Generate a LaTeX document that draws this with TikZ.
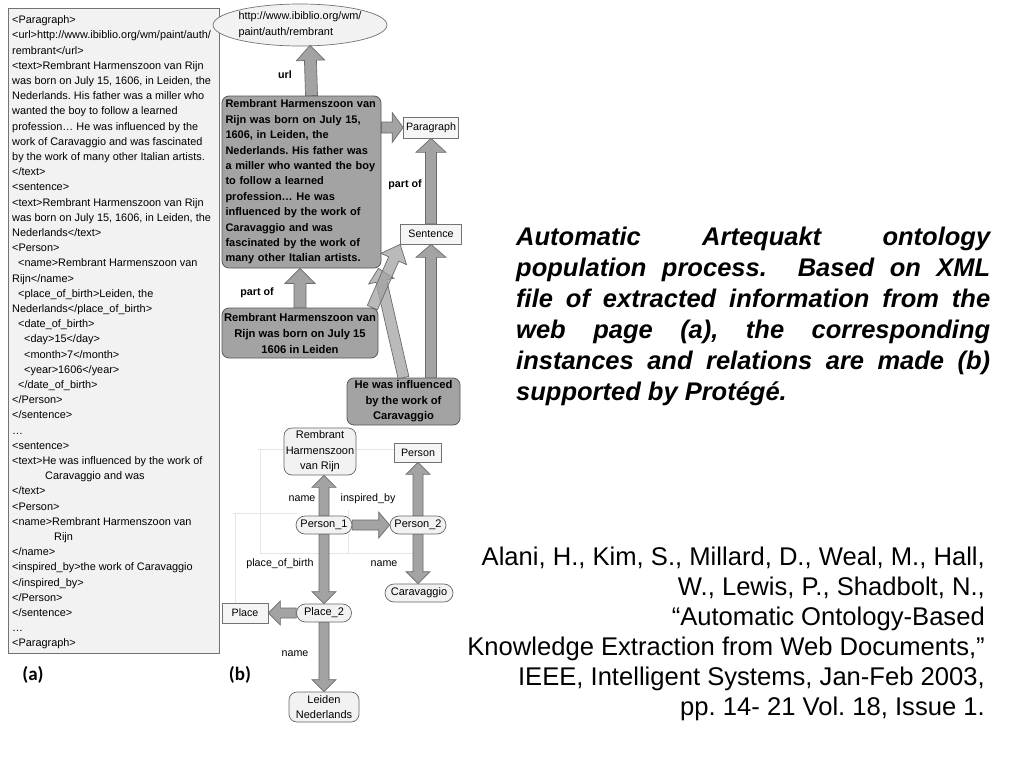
\documentclass[tikz,border=0pt]{standalone}
\usepackage{fontspec}
\setmainfont{Liberation Sans}
\newfontfamily\carl{Carlito}
\usetikzlibrary{calc,shapes.geometric}
\frenchspacing
\newcommand{\barrow}[6][]{%
  \coordinate (hb) at ($(#3)!#6!(#2)$);
  \filldraw[arrowfill,#1] ($(#2)!#4!90:(#3)$) -- ($(hb)!#4!-90:(#2)$) -- ($(hb)!#5!-90:(#2)$) -- (#3) -- ($(hb)!#5!90:(#2)$) -- ($(hb)!#4!90:(#2)$) -- ($(#2)!#4!-90:(#3)$) -- cycle;
}
\begin{document}
\frenchspacing
\begin{tikzpicture}[x=1pt,y=-1pt,
  arrowfill/.style={draw=black!58,fill=black!36,line width=0.7pt,line join=miter},
  panel/.style={draw=black!55,fill=black!5,line width=0.8pt,inner sep=0pt},
  dbox/.style={draw=black!65,fill=black!36,rounded corners=7pt,line width=0.8pt,inner sep=0pt,align=center,font=\fontsize{11.2}{15.4}\selectfont\bfseries},
  sbox/.style={draw=black!55,fill=black!4,line width=0.7pt,inner sep=0pt,font=\fontsize{10.7}{13}\selectfont},
  pill/.style={draw=black!60,fill=black!5,line width=0.7pt,rounded corners=8pt,inner sep=0pt,align=center,font=\fontsize{11}{15.5}\selectfont},
  lab/.style={inner sep=0pt,font=\fontsize{10.7}{13}\selectfont\bfseries},
  rlab/.style={inner sep=0pt,font=\fontsize{10.7}{13}\selectfont},
  faint/.style={draw=black!10,line width=0.6pt},
  captext/.style={inner sep=0pt,anchor=base west,font=\fontsize{25.5}{31}\selectfont\bfseries\itshape},
  citetext/.style={inner sep=0pt,anchor=base east,font=\fontsize{25.6}{30}\selectfont},
  subtext/.style={inner sep=0pt,font=\fontsize{19}{22}\selectfont\carl\bfseries}]
\fill[white] (0,0) rectangle (1024,768);
\useasboundingbox (0,0) rectangle (1024,768);

% ---------- (a) XML panel ----------
\node[panel,minimum width=211pt,minimum height=645pt,anchor=north west] (xml) at (8,8) {};
\node[inner sep=0pt,anchor=north west,align=left,font=\fontsize{10.9}{15.2}\selectfont] (xmltext) at (12,15.5) {%
<Paragraph>\\
<url>http://www.ibiblio.org/wm/paint/auth/\\
rembrant</url>\\
<text>Rembrant Harmenszoon van Rijn\\
was born on July 15, 1606, in Leiden, the\\
Nederlands. His father was a miller who\\
wanted the boy to follow a learned\\
profession… He was influenced by the\\
work of Caravaggio and was fascinated\\
by the work of many other Italian artists.\\
</text>\\
<sentence>\\
<text>Rembrant Harmenszoon van Rijn\\
was born on July 15, 1606, in Leiden, the\\
Nederlands</text>\\
<Person>\\
\hspace*{6pt}<name>Rembrant Harmenszoon van\\
Rijn</name>\\
\hspace*{6pt}<place\_of\_birth>Leiden, the\\
Nederlands</place\_of\_birth>\\
\hspace*{6pt}<date\_of\_birth>\\
\hspace*{12pt}<day>15</day>\\
\hspace*{12pt}<month>7</month>\\
\hspace*{12pt}<year>1606</year>\\
\hspace*{6pt}</date\_of\_birth>\\
</Person>\\
</sentence>\\
…\\
<sentence>\\
<text>He was influenced by the work of\\
\hspace*{33pt}Caravaggio and was\\
</text>\\
<Person>\\
<name>Rembrant Harmenszoon van\\
\hspace*{42pt}Rijn\\
</name>\\
<inspired\_by>the work of Caravaggio\\
</inspired\_by>\\
</Person>\\
</sentence>\\
…\\
<Paragraph>};

% ---------- (b) upper: text instances ----------
\node[ellipse,draw=black!55,fill=black!5,line width=0.7pt,minimum width=136pt,minimum height=42pt,inner sep=0pt,align=left,font=\fontsize{10.9}{16}\selectfont] (url) at (300,25) {http://www.ibiblio.org/wm/\\paint/auth/rembrant};

\node[dbox,minimum width=159pt,minimum height=172pt,text width=152pt,inner xsep=3.5pt,align=left,font=\fontsize{11}{15.4}\selectfont\bfseries] (big) at (301.5,182) {Rembrant Harmenszoon van\\Rijn was born on July 15,\\1606, in Leiden, the\\Nederlands. His father was\\a miller who wanted the boy\\to follow a learned\\profession… He was\\influenced by the work of\\Caravaggio and was\\fascinated by the work of\\many other Italian artists.};

\node[sbox,minimum width=55pt,minimum height=21pt] (para) at (431,127.5) {Paragraph};
\node[sbox,minimum width=61pt,minimum height=20pt] (sent) at (431,234) {Sentence};

\node[dbox,minimum width=156pt,minimum height=50pt,font=\fontsize{11.2}{16}\selectfont\bfseries] (mid) at (300,333) {Rembrant Harmenszoon van\\Rijn was born on July 15\\1606 in Leiden};
\node[dbox,minimum width=113pt,minimum height=47pt,font=\fontsize{11.2}{15.5}\selectfont\bfseries] (hw) at (403.5,401.5) {He was influenced\\by the work of\\Caravaggio};

\node[lab] (lurl) at (285,75) {url};
\node[lab] (lpo1) at (405,185) {part of};
\node[lab] (lpo2) at (257,293) {part of};

\coordinate (u1) at ([xshift=10pt]big.north);
\coordinate (u2) at ([xshift=10pt,yshift=1pt]url.south);
\barrow{u1}{u2}{6pt}{14pt}{15pt}
\coordinate (bp1) at (big.east |- para.west);
\barrow{bp1}{para.west}{5.5pt}{15pt}{11pt}
\barrow{sent.north}{para.south}{5.5pt}{15pt}{14pt}
\coordinate (hs1) at (sent.south |- hw.north);
\barrow{hs1}{sent.south}{5.5pt}{15pt}{13pt}
\coordinate (mb2) at (mid.north |- big.south);
\barrow{mid.north}{mb2}{6pt}{15pt}{15pt}
\coordinate (b2) at ([xshift=-3pt]big.south east);
\barrow[fill opacity=0.75]{hw.north}{b2}{5.5pt}{13pt}{13pt}
\coordinate (a1) at ([xshift=-6pt]mid.north east);
\barrow[fill opacity=0.75]{a1}{sent.south west}{5.5pt}{14pt}{16pt}

% ---------- (b) lower: ontology graph ----------
\draw[faint] (258,449) -- (396,449);
\draw[faint] (260,449) -- (260,553) -- (415,553);
\draw[faint] (233,513) -- (297,513);
\draw[faint] (235,513) -- (235,607);
\draw[faint] (348,510) -- (348,553);

\node[pill,minimum width=72pt,minimum height=47pt] (rem) at (320,451.5) {Rembrant\\Harmenszoon\\van Rijn};
\node[sbox,minimum width=47pt,minimum height=19pt] (person) at (418,452.5) {Person};
\node[pill,minimum width=56pt,minimum height=18pt,rounded corners=9pt] (p1) at (324,525) {Person\_1};
\node[pill,minimum width=56pt,minimum height=18pt,rounded corners=9pt] (p2) at (418,525) {Person\_2};
\node[pill,minimum width=68pt,minimum height=18pt,rounded corners=9pt] (car) at (419,593) {Caravaggio};
\node[pill,minimum width=55pt,minimum height=18pt,rounded corners=9pt] (pl2) at (324,613) {Place\_2};
\node[sbox,minimum width=46pt,minimum height=20pt] (place) at (245,613) {Place};
\node[pill,minimum width=70pt,minimum height=30pt,font=\fontsize{11}{15}\selectfont] (lei) at (324,707) {Leiden\\Nederlands};

\node[rlab] (ln1) at (302,499) {name};
\node[rlab] (lins) at (368,499) {inspired\_by};
\node[rlab] (lpob) at (280,564) {place\_of\_birth};
\node[rlab] (ln2) at (384,564) {name};
\node[rlab] (ln3) at (295,654) {name};

\coordinate (n1) at (p1.north |- rem.south);
\barrow{p1.north}{n1}{5pt}{12pt}{12pt}
\barrow{p1.east}{p2.west}{5pt}{13pt}{11pt}
\coordinate (pp) at (p2.north |- person.south);
\barrow{p2.north}{pp}{5pt}{12pt}{12pt}
\coordinate (c2) at (p2.south |- car.north);
\barrow{p2.south}{c2}{5pt}{12pt}{12pt}
\barrow{p1.south}{pl2.north}{5pt}{12pt}{12pt}
\barrow{pl2.west}{place.east}{5pt}{12pt}{12pt}
\barrow{pl2.south}{lei.north}{5pt}{12pt}{12pt}

\node[subtext] (suba) at (33,675) {(a)};
\node[subtext] (subb) at (240,675) {(b)};

% ---------- caption ----------
\node[captext] (c1) at (516,245) {\makebox[474pt][s]{Automatic Artequakt ontology}};
\node[captext] (c2l) at (516,276) {\makebox[474pt][s]{population process.\ \ Based on XML}};
\node[captext] (c3) at (516,307) {\makebox[474pt][s]{file of extracted information from the}};
\node[captext] (c4) at (516,338) {\makebox[474pt][s]{web page (a), the corresponding}};
\node[captext] (c5) at (516,369) {\makebox[474pt][s]{instances and relations are made (b)}};
\node[captext] (c6) at (516,400) {supported by Protégé.};

% ---------- citation ----------
\node[citetext] (r1) at (985,565) {Alani, H., Kim, S., Millard, D., Weal, M., Hall,};
\node[citetext] (r2) at (985,595) {W., Lewis, P., Shadbolt, N.,};
\node[citetext] (r3) at (985,625) {“Automatic Ontology-Based};
\node[citetext] (r4) at (985,655) {Knowledge Extraction from Web Documents,”};
\node[citetext] (r5) at (985,685) {IEEE, Intelligent Systems, Jan-Feb 2003,};
\node[citetext] (r6) at (985,715) {pp. 14- 21 Vol. 18, Issue 1.};
\end{tikzpicture}
\end{document}
